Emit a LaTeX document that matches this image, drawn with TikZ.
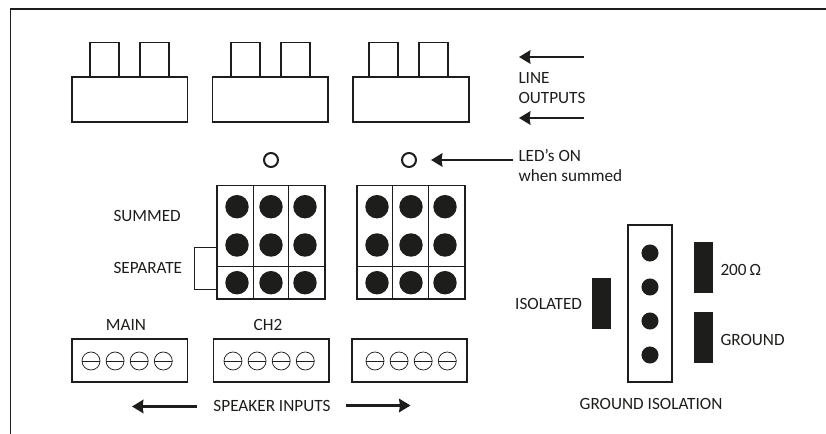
\documentclass[tikz,border=0pt]{standalone}
\usepackage{fontspec}
\setmainfont{Carlito}
\usetikzlibrary{arrows.meta,positioning}
\definecolor{ink}{HTML}{1D1D1B}
\begin{document}
\begin{tikzpicture}[x=.75pt,y=-.75pt,ink,every node/.style={inner sep=0,outer sep=0,text=ink,font=\fontsize{12.9}{15}\selectfont},
  unit/.style={draw,line width=1.35pt,minimum width=86.6pt},
  lineunit/.style={unit,minimum height=33.75pt},
  prong/.style={draw,line width=1.35pt,minimum width=21.75pt,minimum height=25.9pt},
  termunit/.style={unit,minimum height=32.4pt},
  led/.style={circle,draw,line width=1.5pt,minimum size=10.5pt},
  pin/.style={circle,fill=ink,minimum size=17.6pt},
  gpin/.style={circle,fill=ink,minimum size=12.8pt},
  screw/.style={circle,draw,line width=.55pt,minimum size=13.5pt},
  bar/.style={fill=ink,minimum width=14.25pt,minimum height=38.25pt},
  jumper/.style={draw,line width=1pt,minimum width=81pt,minimum height=85.1pt},
  bigarrow/.style={line width=2.1pt,-{Stealth[length=8.5pt,width=10pt,inset=.6pt]}}]
\useasboundingbox (0,0) rectangle (826,434);
\draw[line width=1.35pt] (10.5,434) |- (826,9);
% line outputs
\foreach \i/\x/\pa/\pb in {1/129.75/104.5/154.5,2/270.25/245.5/295.5,3/411/383.25/433.25}{
  \node[lineunit] (out\i) at (\x,99.5) {};
  \node[prong,anchor=south] (prong\i a) at (\pa,77) {};
  \node[prong,anchor=south] (prong\i b) at (\pb,77) {};
}
\coordinate (outa) at (584,57);
\coordinate (outatip) at (519,57);
\coordinate (outb) at (584,118);
\coordinate (outbtip) at (519,118);
\draw[bigarrow] (outa) -- (outatip);
\draw[bigarrow] (outb) -- (outbtip);
\node[align=left,anchor=west] (lineout) at (518.5,88.5) {LINE\\OUTPUTS};
% leds
\node[led] (led1) at (271,160) {};
\node[led] (led2) at (409,160) {};
\node[align=left,anchor=west] (ledtxt) at (518.5,166) {LED’s ON\\when summed};
\coordinate (ledtail) at (513,160);
\coordinate (ledtip) at (431,160);
\draw[bigarrow] (ledtail) -- (ledtip);
% jumper blocks
\foreach \m/\x/\ca/\cb/\pa/\pb/\pc in {1/271/253/288.5/237/271/305,2/411/392.5/428.5/377/411/445}{
  \node[jumper] (block\m) at (\x,242.25) {};
  \draw[line width=.75pt] (\ca,185.5) -- (\ca,299) (\cb,185.5) -- (\cb,299);
  \draw[line width=1.1pt] (block\m.west |- 0,266.7) -- (block\m.east |- 0,266.7);
  \foreach \y [count=\r] in {206.7,245,282.7}{
    \node[pin] (pin\m a\r) at (\pa,\y) {};
    \node[pin] (pin\m b\r) at (\pb,\y) {};
    \node[pin] (pin\m c\r) at (\pc,\y) {};
  }
}
\draw[line width=1pt] (block1.west |- 0,247.5) -- (194.5,247.5) -- (194.5,289.5) -- (block1.west |- 0,289.5);
\node[anchor=west] (summed) at (113.5,216) {SUMMED};
\node[anchor=west] (separate) at (113.5,267.5) {SEPARATE};
% speaker inputs
\foreach \t/\x/\first in {1/129.75/91,2/271.25/233,3/409.5/375}{
  \node[termunit] (term\t) at (\x,360.5) {};
  \foreach \n in {0,1,2,3}{
    \node[screw] (screw\t\n) at ({\first+24.1*\n},361) {};
    \draw[line width=.55pt] (screw\t\n.west) -- (screw\t\n.east);
  }
}
\node (main) at (126,325) {MAIN};
\node (chtwo) at (268,325) {CH2};
\node (spk) at (272,406) {SPEAKER INPUTS};
\coordinate (spkltail) at (197,406.5);
\coordinate (spkl) at (132,406.5);
\coordinate (spkrtail) at (346,405.5);
\coordinate (spkr) at (410.5,405.5);
\draw[bigarrow] (spkltail) -- (spkl);
\draw[bigarrow] (spkrtail) -- (spkr);
% ground isolation
\node[draw,line width=1.7pt,minimum width=33pt,minimum height=117.75pt] (gnd) at (650,303.5) {};
\foreach \y [count=\n] in {253,287,321,355}
  \node[gpin] (gpin\n) at (650,\y) {};
\node[bar] (isobar) at (601.5,303.5) {};
\node[bar] (resbar) at (703.5,267.5) {};
\node[bar] (gndbar) at (703.5,337.5) {};
\node[anchor=east] (isotxt) at (582,303.5) {ISOLATED};
\node[anchor=west] (restxt) at (720.5,270) {200\,Ω};
\node[anchor=west] (gndtxt) at (720.5,340) {GROUND};
\node (gndiso) at (651,403.5) {GROUND ISOLATION};
\end{tikzpicture}
\end{document}
